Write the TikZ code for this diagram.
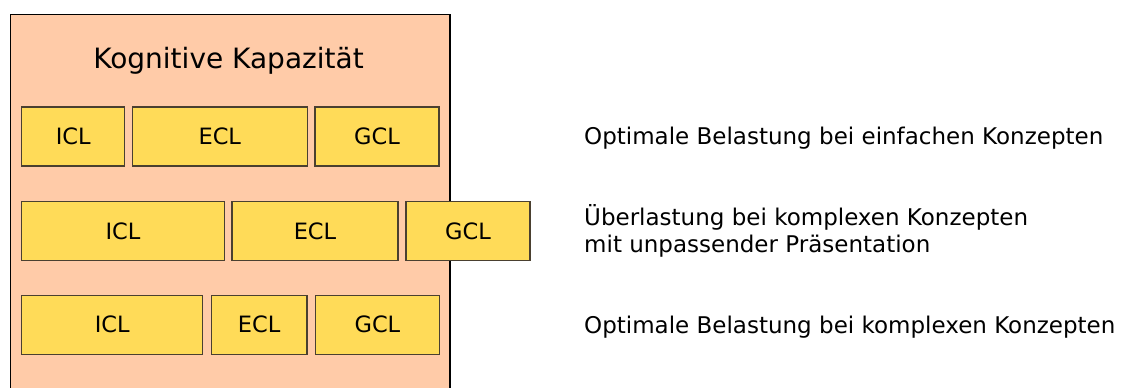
\documentclass[tikz,border=0pt]{standalone}
\usepackage{fontspec}
\setmainfont{DejaVu Sans}
\definecolor{capfill}{HTML}{FFCBA8}
\definecolor{loadfill}{HTML}{FFDB58}
\definecolor{loadedge}{HTML}{4A4030}
\begin{document}
\begin{tikzpicture}[x=1pt,y=-1pt,
  loadbox/.style={draw=loadedge,line width=1.2pt,fill=loadfill,inner sep=0pt,
    minimum height=59pt,font=\fontsize{22.5}{27}\selectfont},
  note/.style={anchor=base west,inner sep=0pt,align=left,
    font=\fontsize{23}{27.5}\selectfont}]
\useasboundingbox (0,0) rectangle (1127,388);
% capacity frame, open towards the bottom edge
\fill[capfill] (10.5,14.5) rectangle (450,392);
\draw[black,line width=1.3pt] (10.5,392) -- (10.5,14.5) -- (450,14.5) -- (450,392);
\node[anchor=base,inner sep=0pt,font=\fontsize{28}{34}\selectfont] (title) at (228.5,68.3) {Kognitive Kapazität};
% row 1: simple concepts
\node[loadbox,minimum width=103pt] (i1) at (73.2,136.5) {ICL};
\node[loadbox,minimum width=175pt] (e1) at (219.8,136.5) {ECL};
\node[loadbox,minimum width=124pt] (g1) at (377,136.5) {GCL};
% row 2: overload
\node[loadbox,minimum width=202.6pt] (i2) at (123,231) {ICL};
\node[loadbox,minimum width=166pt] (e2) at (315,231) {ECL};
\node[loadbox,minimum width=124pt] (g2) at (468,231) {GCL};
% row 3: complex concepts
\node[loadbox,minimum width=181pt] (i3) at (112.2,324.7) {ICL};
\node[loadbox,minimum width=95.6pt] (e3) at (259.2,324.7) {ECL};
\node[loadbox,minimum width=124pt] (g3) at (377.4,324.7) {GCL};
% descriptions (base of a two-line note is its last line)
\node[note] (n1) at (584,144.3) {Optimale Belastung bei einfachen Konzepten};
\node[note] (n2) at (584,252.5) {Überlastung bei komplexen Konzepten\\mit unpassender Präsentation};
\node[note] (n3) at (584,333.5) {Optimale Belastung bei komplexen Konzepten};
\end{tikzpicture}
\end{document}
